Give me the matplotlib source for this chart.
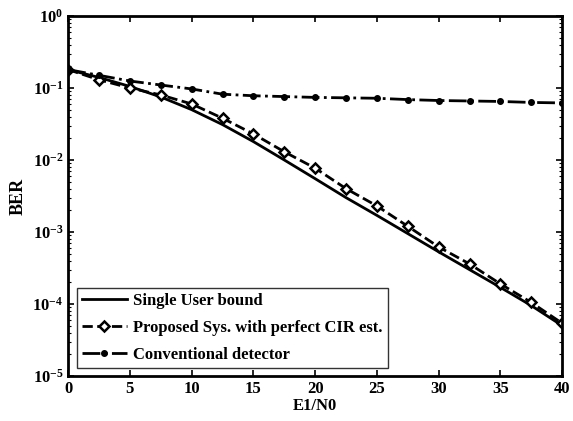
import matplotlib
matplotlib.use('Agg')
import matplotlib.pyplot as plt
import numpy as np

# E1/N0 in dB
snr = [0, 2.5, 5, 7.5, 10, 12.5, 15, 17.5, 20, 22.5, 25, 27.5, 30, 32.5, 35, 37.5, 40]

single_user = [0.18, 0.14, 0.105, 0.075, 0.05, 0.031, 0.018, 0.010, 0.0055, 0.0030,
               0.0017, 0.00095, 0.00053, 0.00030, 0.00017, 0.000095, 0.00005]
proposed = [0.18, 0.13, 0.10, 0.08, 0.06, 0.038, 0.023, 0.013, 0.0077, 0.0040,
            0.0023, 0.0012, 0.00062, 0.00036, 0.00019, 0.000105, 0.000054]
conventional = [0.18, 0.15, 0.125, 0.11, 0.097, 0.082, 0.078, 0.076, 0.074, 0.073,
                0.072, 0.069, 0.067, 0.066, 0.065, 0.063, 0.062]

plt.rcParams['font.family'] = ['Liberation Serif', 'DejaVu Serif']
plt.rcParams['font.weight'] = 'bold'
plt.rcParams['mathtext.default'] = 'regular'

fig = plt.figure(figsize=(5.73, 4.21), dpi=100)
ax = fig.add_axes([0.119, 0.107, 0.862, 0.855])

ax.semilogy(snr, single_user, 'k-', lw=2, label='Single User bound')
ax.semilogy(snr, proposed, 'k--', lw=2, marker='D', markersize=5.5,
            markerfacecolor='white', markeredgewidth=1.8, label='Proposed Sys. with perfect CIR est.')
ax.semilogy(snr, conventional, 'k-.', lw=2, marker='o', markersize=4,
            markerfacecolor='black', label='Conventional detector')

ax.set_xlim(0, 40)
ax.set_ylim(1e-5, 1)
ax.set_xticks([0, 5, 10, 15, 20, 25, 30, 35, 40])
ax.set_yticks([1e-5, 1e-4, 1e-3, 1e-2, 1e-1, 1])
ax.tick_params(which='both', direction='in', top=True, right=True, labelsize=12)
ax.tick_params(which='major', length=4, width=1.2)
ax.tick_params(which='minor', length=2, width=0.8)
for s in ax.spines.values():
    s.set_linewidth(2)

ax.set_xlabel('E1/N0', fontsize=12, fontweight='bold', labelpad=1)
ax.set_ylabel('BER', fontsize=13, fontweight='bold', labelpad=4)

leg = ax.legend(loc='lower left', handlelength=2.7, frameon=True,
                fancybox=False, edgecolor='black', borderaxespad=0.5,
                labelspacing=0.65, handletextpad=0.4, borderpad=0.3,
                prop={'weight': 'bold', 'size': 12})
leg.get_frame().set_linewidth(1.0)

fig.savefig('out.png', dpi=100)
